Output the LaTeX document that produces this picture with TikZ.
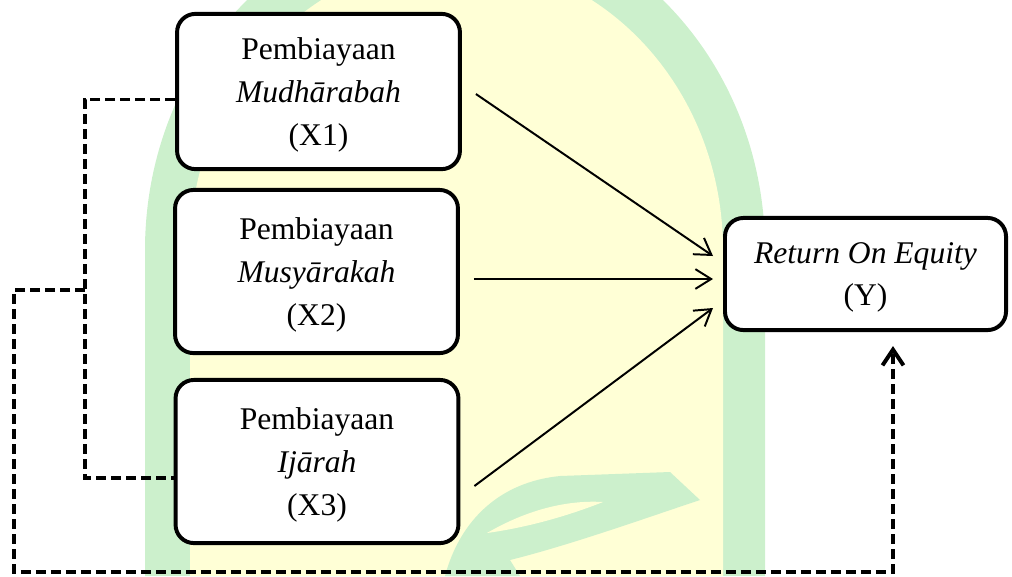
\documentclass[tikz,border=0pt]{standalone}
\usepackage{fontspec}
\setmainfont{Liberation Serif}
\usetikzlibrary{arrows.meta,calc}
\definecolor{wmgreen}{RGB}{204,240,204}
\definecolor{wmyellow}{RGB}{255,255,214}
\begin{document}
\begin{tikzpicture}
      [x=0.38pt,y=-0.38pt,
       varbox/.style={draw,line width=1.5pt,rounded corners=7pt,fill=white,
         align=center,inner sep=0pt,minimum width=107.5pt,text depth=-1.2pt,
         font=\fontsize{12}{16.3}\selectfont},
       arr/.style={line width=0.75pt,-{Straight Barb[length=6pt,width=7.5pt]}},
       dashline/.style={line width=1.5pt,dash pattern=on 3.8pt off 1.9pt}]
      \useasboundingbox (0,0) rectangle (1012,576);
      \fill[wmgreen] (145,576) -- (145,250)
        arc[start angle=180,end angle=360,x radius=310,y radius=337] -- (765,576) -- cycle;
      \fill[wmyellow] (190,576) -- (190,250)
        arc[start angle=180,end angle=360,x radius=266.5,y radius=290] -- (723,576) -- cycle;
      \fill[wmgreen] (445,576) .. controls (460,520) and (500,482) .. (560,476)
        -- (670,472) -- (700,500) .. controls (640,520) and (570,545) .. (510,560)
        -- (520,576) -- cycle;
      \fill[wmyellow] (487,533) .. controls (530,508) and (570,500) .. (603,502)
        .. controls (570,515) and (530,527) .. (487,533) -- cycle;
      \node[varbox,minimum height=59pt] (X1) at (318.5,91.5)
        {Pembiayaan\\\textit{Mudhārabah}\\(X1)};
      \node[varbox,minimum height=62pt] (X2) at (316.5,271.5)
        {Pembiayaan\\\textit{Musyārakah}\\(X2)};
      \node[varbox,minimum height=62pt] (X3) at (317,461.5)
        {Pembiayaan\\\textit{Ijārah}\\(X3)};
      \node[varbox,minimum width=106.8pt,minimum height=42.6pt] (Y) at (865.5,274)
        {\textit{Return On Equity}\\(Y)};
      \draw[arr] ($(X1.east)+(14,2.5)$) -- ($(Y.west)+(-10,-18)$);
      \draw[arr] ($(X2.east)+(14,7.5)$) -- ($(Y.west)+(-10,5)$);
      \draw[arr] ($(X3.east)+(14,24.5)$) -- ($(Y.west)+(-10,34)$);
      \coordinate (lk) at (85,290);
      \coordinate (corner) at (14,572);
      \draw[dashline] ($(X1.west)+(0,8)$) -| (lk) |- ($(X3.west)+(0,16.5)$);
      \draw[dashline,-{Straight Barb[length=6pt,width=8pt]}]
        (lk) -| (corner) -| ($(Y.south)+(27.5,14)$);
    \end{tikzpicture}
\end{document}
